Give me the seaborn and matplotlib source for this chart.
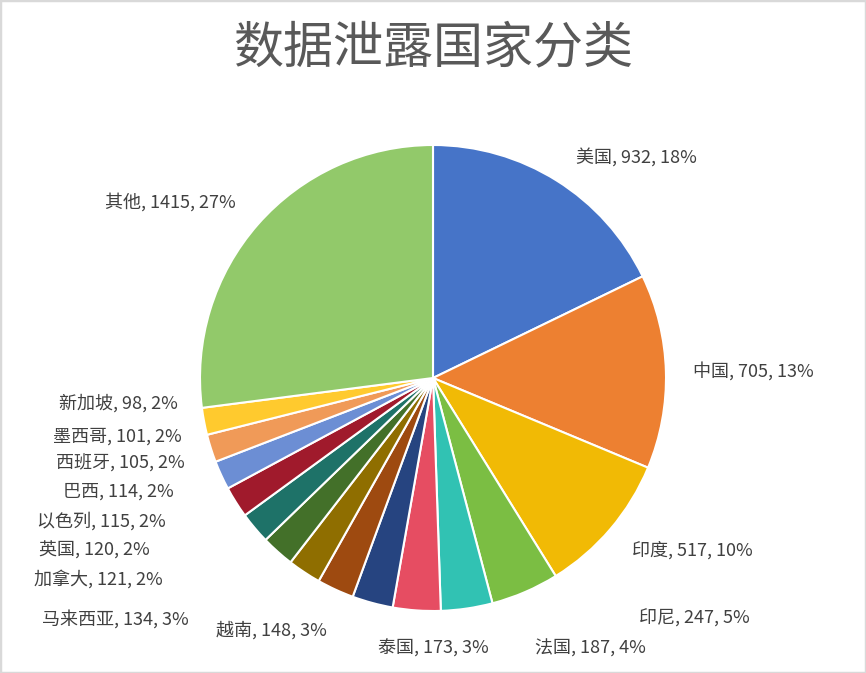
import matplotlib
matplotlib.use("Agg")
import matplotlib.pyplot as plt
import seaborn as sns
from matplotlib.patches import Rectangle

# data
countries = ["美国", "中国", "印度", "印尼", "法国", "泰国", "越南", "马来西亚",
             "加拿大", "英国", "以色列", "巴西", "西班牙", "墨西哥", "新加坡", "其他"]
counts = [932, 705, 517, 247, 187, 173, 148, 134, 121, 120, 115, 114, 105, 101, 98, 1415]
percents = ["18%", "13%", "10%", "5%", "4%", "3%", "3%", "3%",
            "2%", "2%", "2%", "2%", "2%", "2%", "2%", "27%"]

colors = ["#4674C8", "#ED8031", "#F1BA05", "#7BBE43", "#31C2B3", "#E64D62",
          "#264480", "#9E4A10", "#8F6E00", "#437029", "#1E7268", "#A01A2C",
          "#6C8ED4", "#F09A58", "#FFCA2E", "#92C96A"]

# label anchors (pie radius = 1)
label_pos = [(0.871, 0.948), (1.373, 0.030), (1.112, -0.742), (1.120, -1.034),
             (0.674, -1.159), (0.0, -1.159), (-0.695, -1.082), (-1.365, -1.034),
             (-1.438, -0.863), (-1.455, -0.742), (-1.425, -0.614), (-1.352, -0.489),
             (-1.343, -0.365), (-1.356, -0.253), (-1.352, -0.107), (-1.129, 0.755)]

sns.set_theme(style="white")
plt.rcParams['font.family'] = ['Noto Sans CJK SC', 'DejaVu Sans']

W, H = 866, 673
cx, cy, r = 433, 378, 233

fig = plt.figure(figsize=(W / 100, H / 100), dpi=100)
ax = fig.add_axes([0, 0, 1, 1])

ax.pie(counts, colors=sns.color_palette(colors), startangle=90, counterclock=False,
       wedgeprops=dict(edgecolor="white", linewidth=1.5))
ax.set_xlim(-cx / r, (W - cx) / r)
ax.set_ylim((cy - H) / r, cy / r)
ax.set_aspect("auto")
ax.axis("off")

for name, n, p, (x, y) in zip(countries, counts, percents, label_pos):
    ax.text(x, y, f"{name}, {n}, {p}", ha="center", va="center",
            fontsize=13, color="#404040")

fig.text(0.5, 1 - 48 / H, "数据泄露国家分类", ha="center", va="center",
         fontsize=36, color="#595959", fontweight="light")

fig.patches.append(Rectangle((0, 0), 1, 1, transform=fig.transFigure, fill=False,
                             edgecolor="#D9D9D9", linewidth=2.5))

fig.savefig("out.png", dpi=100)
